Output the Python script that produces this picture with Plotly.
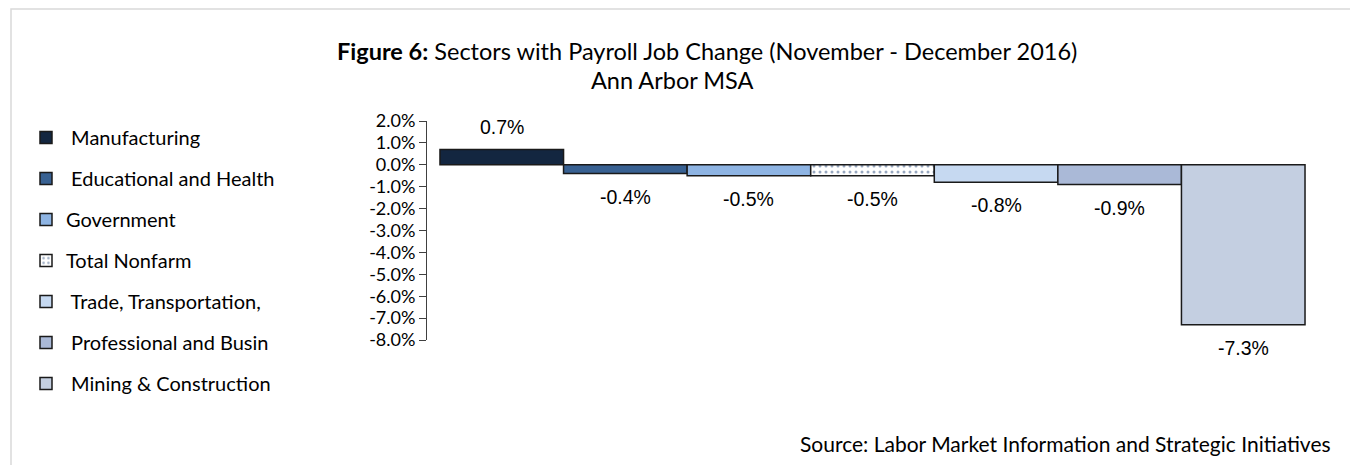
import plotly.graph_objects as go

categories = ["\u00a0Manufacturing", "\u00a0Educational and Health", "Government", "Total Nonfarm",
              "\u00a0Trade, Transportation,", "\u00a0Professional and Busin", "\u00a0Mining & Construction"]
values = [0.007, -0.004, -0.005, -0.005, -0.008, -0.009, -0.073]
labels = ["0.7%", "-0.4%", "-0.5%", "-0.5%", "-0.8%", "-0.9%", "-7.3%"]
colors = ["#132640", "#386192", "#8eb4e3", "#ffffff", "#c6d9f1", "#aab9d7", "#c4cfe1"]
tick_vals = [0.02, 0.01, 0.0, -0.01, -0.02, -0.03, -0.04, -0.05, -0.06, -0.07, -0.08]
tick_text = ["2.0%", "1.0%", "0.0%", "-1.0%", "-2.0%", "-3.0%", "-4.0%", "-5.0%", "-6.0%", "-7.0%", "-8.0%"]

OFF = 8  # page body margin
W, H = 1358 - OFF, 465 - OFF
L, T = 427 - OFF, 121 - OFF
R = W - (1318 - OFF)
B = H - (340 - OFF)
pw, ph = W - L - R, H - T - B


def px(x):
    return (x - OFF - L) / pw


def py(y):
    return (H - B - (y - OFF)) / ph


fig = go.Figure()
for i, (c, v, col) in enumerate(zip(categories, values, colors)):
    marker = dict(color=col, line=dict(color="#1a1a1a", width=1.5))
    if c == "Total Nonfarm":
        marker["pattern"] = dict(shape=".", fgcolor="#2f4f80", bgcolor="#ffffff", size=6, solidity=0.2)
    fig.add_trace(go.Bar(x=[i], y=[v], width=1, name=c, marker=marker,
                         legendgroup=f"g{i}", hoverinfo="skip"))

for i, (v, t) in enumerate(zip(values, labels)):
    fig.add_annotation(x=i, y=v, text=t, showarrow=False, xref="x", yref="y",
                       yshift=22 if v >= 0 else -23,
                       font=dict(family="Liberation Sans, Arial", size=19.5, color="#000000"))

fig.update_xaxes(range=[-0.605, 6.605], showticklabels=False, showgrid=False,
                 zeroline=False, showline=False, ticks="")
fig.update_yaxes(range=[-0.08, 0.02], tickmode="array", tickvals=tick_vals, ticktext=tick_text,
                 showgrid=False, zeroline=False, showline=True, linecolor="#404040",
                 linewidth=1, ticks="outside", ticklen=7, tickcolor="#404040",
                 tickfont=dict(family="Lato", size=18, color="#000000"))

# title
fig.add_annotation(xref="paper", yref="paper", x=px(707), y=py(51),
                   text="<b>Figure 6:</b> Sectors with Payroll Job Change (November - December 2016)",
                   showarrow=False, xanchor="center", yanchor="middle",
                   font=dict(family="Lato", size=23.5, color="#000000"))
fig.add_annotation(xref="paper", yref="paper", x=px(672), y=py(80),
                   text="Ann Arbor MSA", showarrow=False, xanchor="center", yanchor="middle",
                   font=dict(family="Lato", size=23.5, color="#000000"))
# source
fig.add_annotation(xref="paper", yref="paper", x=px(1333), y=py(443),
                   text="Source: Labor Market Information and Strategic Initiatives",
                   showarrow=False, xanchor="right", yanchor="middle",
                   font=dict(family="Lato", size=21, color="#000000"))
# outer frame
fig.add_shape(type="rect", xref="paper", yref="paper",
              x0=px(11), x1=px(1354), y0=py(480), y1=py(9),
              line=dict(color="#d9d9d9", width=1.5), fillcolor="rgba(0,0,0,0)", layer="below")

fig.update_layout(
    width=W, height=H, barmode="overlay",
    margin=dict(l=L, r=R, t=T, b=B, pad=0),
    paper_bgcolor="white", plot_bgcolor="white",
    showlegend=True,
    legend=dict(xref="container", yref="container", x=(26 - OFF) / W, y=1 - (118 - OFF) / H,
                xanchor="left", yanchor="top", traceorder="grouped", tracegroupgap=12,
                maxheight=420,
                font=dict(family="Lato", size=20, color="#000000"),
                bgcolor="rgba(0,0,0,0)", itemclick=False, itemdoubleclick=False),
)

fig.write_html("out.html")
